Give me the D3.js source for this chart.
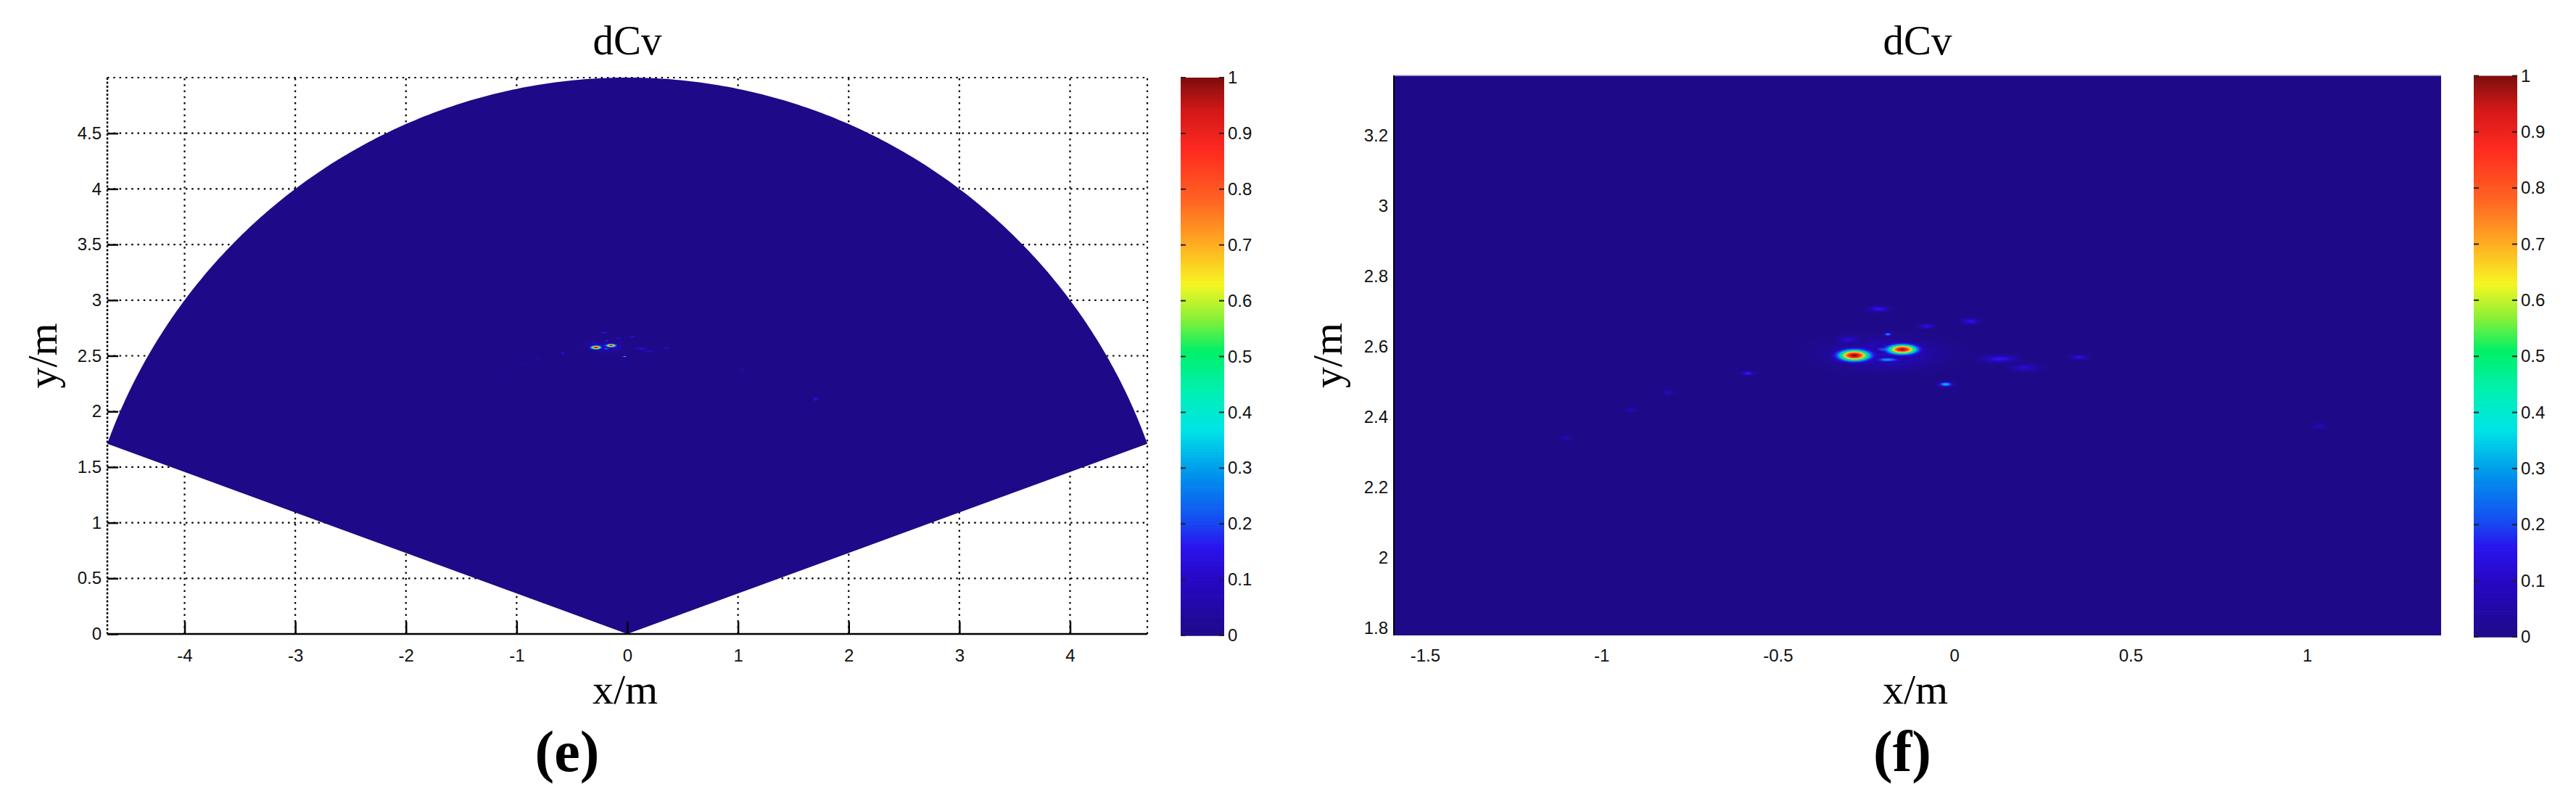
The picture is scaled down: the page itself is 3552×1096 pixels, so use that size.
<!DOCTYPE html>
<html>
<head>
<meta charset="utf-8">
<script src="https://cdn.jsdelivr.net/npm/d3@7"></script>
<style>
body { margin: 0; background: #fff; }
svg { display: block; background: #fff; }
</style>
</head>
<body>
<svg id="fig" width="3552" height="1096"></svg>
<script>
// axis limits of the two maps (metres)
const fanXLimits = [-4.698, 4.698];
const fanYLimits = [0, 5];
const fanRadius = 5;
const fanAngles = [20, 160];          // degrees, edges of the scanned sector
const zoomXLimits = [-1.588, 1.38];
const zoomYLimits = [1.78, 3.37];

const fanXTicks = [-4, -3, -2, -1, 0, 1, 2, 3, 4];
const fanYTicks = [0, 0.5, 1, 1.5, 2, 2.5, 3, 3.5, 4, 4.5];
const zoomXTicks = [-1.5, -1, -0.5, 0, 0.5, 1];
const zoomYTicks = [1.8, 2, 2.2, 2.4, 2.6, 2.8, 3, 3.2];
const cbarTicks = [0, 0.1, 0.2, 0.3, 0.4, 0.5, 0.6, 0.7, 0.8, 0.9, 1];

// spots of dCv: centre, peak value, half-sizes (m)
const spotX    = [-0.20, -0.283, -0.147, -0.20, -0.19, -0.024, -0.188, -0.215, 0.046, 0.128, -0.078, 0.354, -0.585, -0.81, -0.916, -1.10, 1.035, 1.70, -0.30, 0.20];
const spotY    = [2.58, 2.575, 2.592, 2.592, 2.563, 2.493, 2.635, 2.707, 2.672, 2.565, 2.658, 2.57, 2.524, 2.47, 2.42, 2.34, 2.374, 2.11, 2.62, 2.54];
const spotPeak = [0.12, 1.00, 0.97, 0.38, 0.30, 0.34, 0.30, 0.16, 0.15, 0.16, 0.15, 0.15, 0.18, 0.10, 0.09, 0.08, 0.08, 0.16, 0.12, 0.12];
const spotRx   = [0.30, 0.088, 0.083, 0.040, 0.070, 0.038, 0.022, 0.060, 0.050, 0.100, 0.045, 0.050, 0.035, 0.030, 0.030, 0.030, 0.040, 0.050, 0.060, 0.08];
const spotRy   = [0.08, 0.032, 0.028, 0.012, 0.013, 0.013, 0.009, 0.016, 0.016, 0.020, 0.013, 0.012, 0.012, 0.012, 0.012, 0.012, 0.015, 0.030, 0.020, 0.02];

// jet-like colour map as seen on the colour bars
const cmapStops = [
    [0.00, '#1e0a88'], [0.10, '#2608c4'], [0.16, '#2a14ee'], [0.21, '#1450f2'],
    [0.29, '#0094ec'], [0.37, '#00e4e6'], [0.44, '#00f0b0'], [0.51, '#00f068'],
    [0.57, '#8cf036'], [0.63, '#f6f622'], [0.70, '#ffae22'], [0.78, '#ff6422'],
    [0.87, '#ff2a20'], [0.94, '#d41818'], [1.00, '#7e0e0e']
];
const cmap = d3.scaleLinear()
    .domain(cmapStops.map(s => s[0]))
    .range(cmapStops.map(s => s[1]))
    .interpolate(d3.interpolateRgb)
    .clamp(true);

const svg = d3.select('#fig');
const defs = svg.append('defs');
const serif = '"Liberation Serif","Times New Roman",serif';
const sans = '"Liberation Sans",Arial,sans-serif';

const spots = spotX.map((x, i) => ({
    x, y: spotY[i], peak: spotPeak[i], rx: spotRx[i], ry: spotRy[i], id: 'spot' + i
})).sort((a, b) => a.peak - b.peak);

spots.forEach(s => {
    const grad = defs.append('radialGradient').attr('id', s.id);
    d3.range(0, 1.0001, 0.05).forEach(t => {
	const v = s.peak * Math.exp(-4.5 * t * t);
	grad.append('stop')
	    .attr('offset', t)
	    .attr('stop-color', cmap(v))
	    .attr('stop-opacity', 1 - Math.pow(t, 3));
    });
});

function drawSpots(g, x, y, clipId) {
    g.append('g').attr('clip-path', `url(#${clipId})`)
	.selectAll('ellipse').data(spots)
	.join('ellipse')
	.attr('cx', d => x(d.x))
	.attr('cy', d => y(d.y))
	.attr('rx', d => x(d.x + d.rx) - x(d.x))
	.attr('ry', d => y(d.y) - y(d.y + d.ry))
	.style('fill', d => `url(#${d.id})`);
}

function styleTicks(sel) {
    sel.select('.domain').remove();
    sel.selectAll('text').attr('font-family', sans).attr('font-size', 24).attr('fill', '#111');
    sel.selectAll('line').attr('stroke', '#000').attr('stroke-width', 2.5);
}

function drawColorbar(left, width, top, bottom) {
    const cy = d3.scaleLinear().domain([0, 1]).range([bottom, top]);
    const g = svg.append('g');
    const step = 0.005;
    g.selectAll('rect').data(d3.range(0, 1, step))
	.join('rect')
	.attr('x', left)
	.attr('width', width)
	.attr('y', d => cy(d + step))
	.attr('height', d => cy(d) - cy(d + step) + 0.7)
	.attr('fill', d => cmap(d + step / 2));
    g.selectAll('line.l').data(cbarTicks).join('line')
	.attr('class', 'l')
	.attr('x1', left).attr('x2', left + 7)
	.attr('y1', d => cy(d)).attr('y2', d => cy(d))
	.attr('stroke', '#222').attr('stroke-width', 2);
    g.selectAll('line.r').data(cbarTicks).join('line')
	.attr('class', 'r')
	.attr('x1', left + width - 7).attr('x2', left + width)
	.attr('y1', d => cy(d)).attr('y2', d => cy(d))
	.attr('stroke', '#222').attr('stroke-width', 2);
    g.append('g')
	.attr('transform', `translate(${left + width},0)`)
	.call(d3.axisRight(cy).tickValues(cbarTicks).tickSize(0).tickPadding(5).tickFormat(d => String(d)))
	.call(styleTicks);
}

function drawLabels(cx, yLabelX, cyMid, panelLetter, letterX) {
    svg.append('text').text('dCv')
	.attr('x', cx).attr('y', 75)
	.attr('text-anchor', 'middle')
	.attr('font-family', serif).attr('font-size', 57);
    svg.append('text').text('x/m')
	.attr('x', cx - 3).attr('y', 970)
	.attr('text-anchor', 'middle')
	.attr('font-family', serif).attr('font-size', 58);
    svg.append('text').text('y/m')
	.attr('transform', `translate(${yLabelX},${cyMid}) rotate(-90)`)
	.attr('text-anchor', 'middle')
	.attr('font-family', serif).attr('font-size', 58);
    svg.append('text').text(panelLetter)
	.attr('x', letterX).attr('y', 1063)
	.attr('text-anchor', 'middle')
	.attr('font-family', serif).attr('font-weight', 'bold').attr('font-size', 80);
}

// ---------- (e) full sector ----------
function drawFan() {
    const left = 148, right = 1582, top = 107, bottom = 874;
    const x = d3.scaleLinear().domain(fanXLimits).range([left, right]);
    const y = d3.scaleLinear().domain(fanYLimits).range([bottom, top]);
    const g = svg.append('g');

    const dotted = sel => sel.attr('stroke', '#000').attr('stroke-width', 2.2).attr('stroke-dasharray', '2.5,5.8');
    g.append('g').selectAll('line').data(fanXTicks.concat([fanXLimits[1]]))
	.join('line')
	.attr('x1', d => x(d)).attr('x2', d => x(d))
	.attr('y1', y(fanYLimits[0])).attr('y2', y(fanYLimits[1]))
	.call(dotted);
    g.append('g').selectAll('line').data(fanYTicks.filter(d => d > 0).concat([fanYLimits[1]]))
	.join('line')
	.attr('x1', x(fanXLimits[0])).attr('x2', x(fanXLimits[1]))
	.attr('y1', d => y(d)).attr('y2', d => y(d))
	.call(dotted);

    const rim = d3.range(fanAngles[0], fanAngles[1] + 0.001, 0.5)
	  .map(a => [fanRadius * Math.cos(a * Math.PI / 180), fanRadius * Math.sin(a * Math.PI / 180)]);
    const outline = [[0, 0]].concat(rim);
    const line = d3.line().x(d => x(d[0])).y(d => y(d[1]));
    defs.append('clipPath').attr('id', 'clip-fan').append('path').attr('d', line(outline) + 'Z');
    g.append('path').attr('d', line(outline) + 'Z').attr('fill', cmap(0));
    drawSpots(g, x, y, 'clip-fan');

    // axes
    g.append('line')
	.attr('x1', left).attr('x2', left).attr('y1', top).attr('y2', bottom)
	.attr('stroke', '#000').attr('stroke-width', 2.5).attr('stroke-dasharray', '3,2.5');
    g.append('line')
	.attr('x1', left).attr('x2', right).attr('y1', bottom).attr('y2', bottom)
	.attr('stroke', '#000').attr('stroke-width', 2.5);
    g.append('g').attr('transform', `translate(0,${bottom})`)
	.call(d3.axisBottom(x).tickValues(fanXTicks).tickSize(-17).tickPadding(21).tickFormat(d => String(d)))
	.call(styleTicks);
    g.append('g').attr('transform', `translate(${left},0)`)
	.call(d3.axisLeft(y).tickValues(fanYTicks).tickSize(-15).tickPadding(8).tickFormat(d => String(d)))
	.call(styleTicks);

    drawColorbar(1628, 60, 107, 876);
    drawLabels((left + right) / 2, 78, (top + bottom) / 2, '(e)', 782);
}

// ---------- (f) zoomed map ----------
function drawZoom() {
    const left = 1922, right = 3366, top = 104, bottom = 876;
    const x = d3.scaleLinear().domain(zoomXLimits).range([left, right]);
    const y = d3.scaleLinear().domain(zoomYLimits).range([bottom, top]);
    const g = svg.append('g');

    defs.append('clipPath').attr('id', 'clip-zoom').append('rect')
	.attr('x', left).attr('y', top).attr('width', right - left).attr('height', bottom - top);
    g.append('rect')
	.attr('x', left).attr('y', top).attr('width', right - left).attr('height', bottom - top)
	.attr('fill', cmap(0));
    drawSpots(g, x, y, 'clip-zoom');

    g.append('line')
	.attr('x1', left).attr('x2', right).attr('y1', top).attr('y2', top)
	.attr('stroke', '#b4b4d4').attr('stroke-width', 1.5);
    g.append('line')
	.attr('x1', left).attr('x2', left).attr('y1', top).attr('y2', bottom)
	.attr('stroke', '#000').attr('stroke-width', 2);
    g.append('g').attr('transform', `translate(0,${bottom})`)
	.call(d3.axisBottom(x).tickValues(zoomXTicks).tickSize(0).tickPadding(19).tickFormat(d => String(d)))
	.call(styleTicks);
    g.append('g').attr('transform', `translate(${left},0)`)
	.call(d3.axisLeft(y).tickValues(zoomYTicks).tickSize(0).tickPadding(8).tickFormat(d => String(d)))
	.call(styleTicks);

    drawColorbar(3411, 60, 104.5, 878);
    drawLabels((left + right) / 2, 1850, (top + bottom) / 2, '(f)', 2623);
}

drawFan();
drawZoom();
</script>
</body>
</html>
